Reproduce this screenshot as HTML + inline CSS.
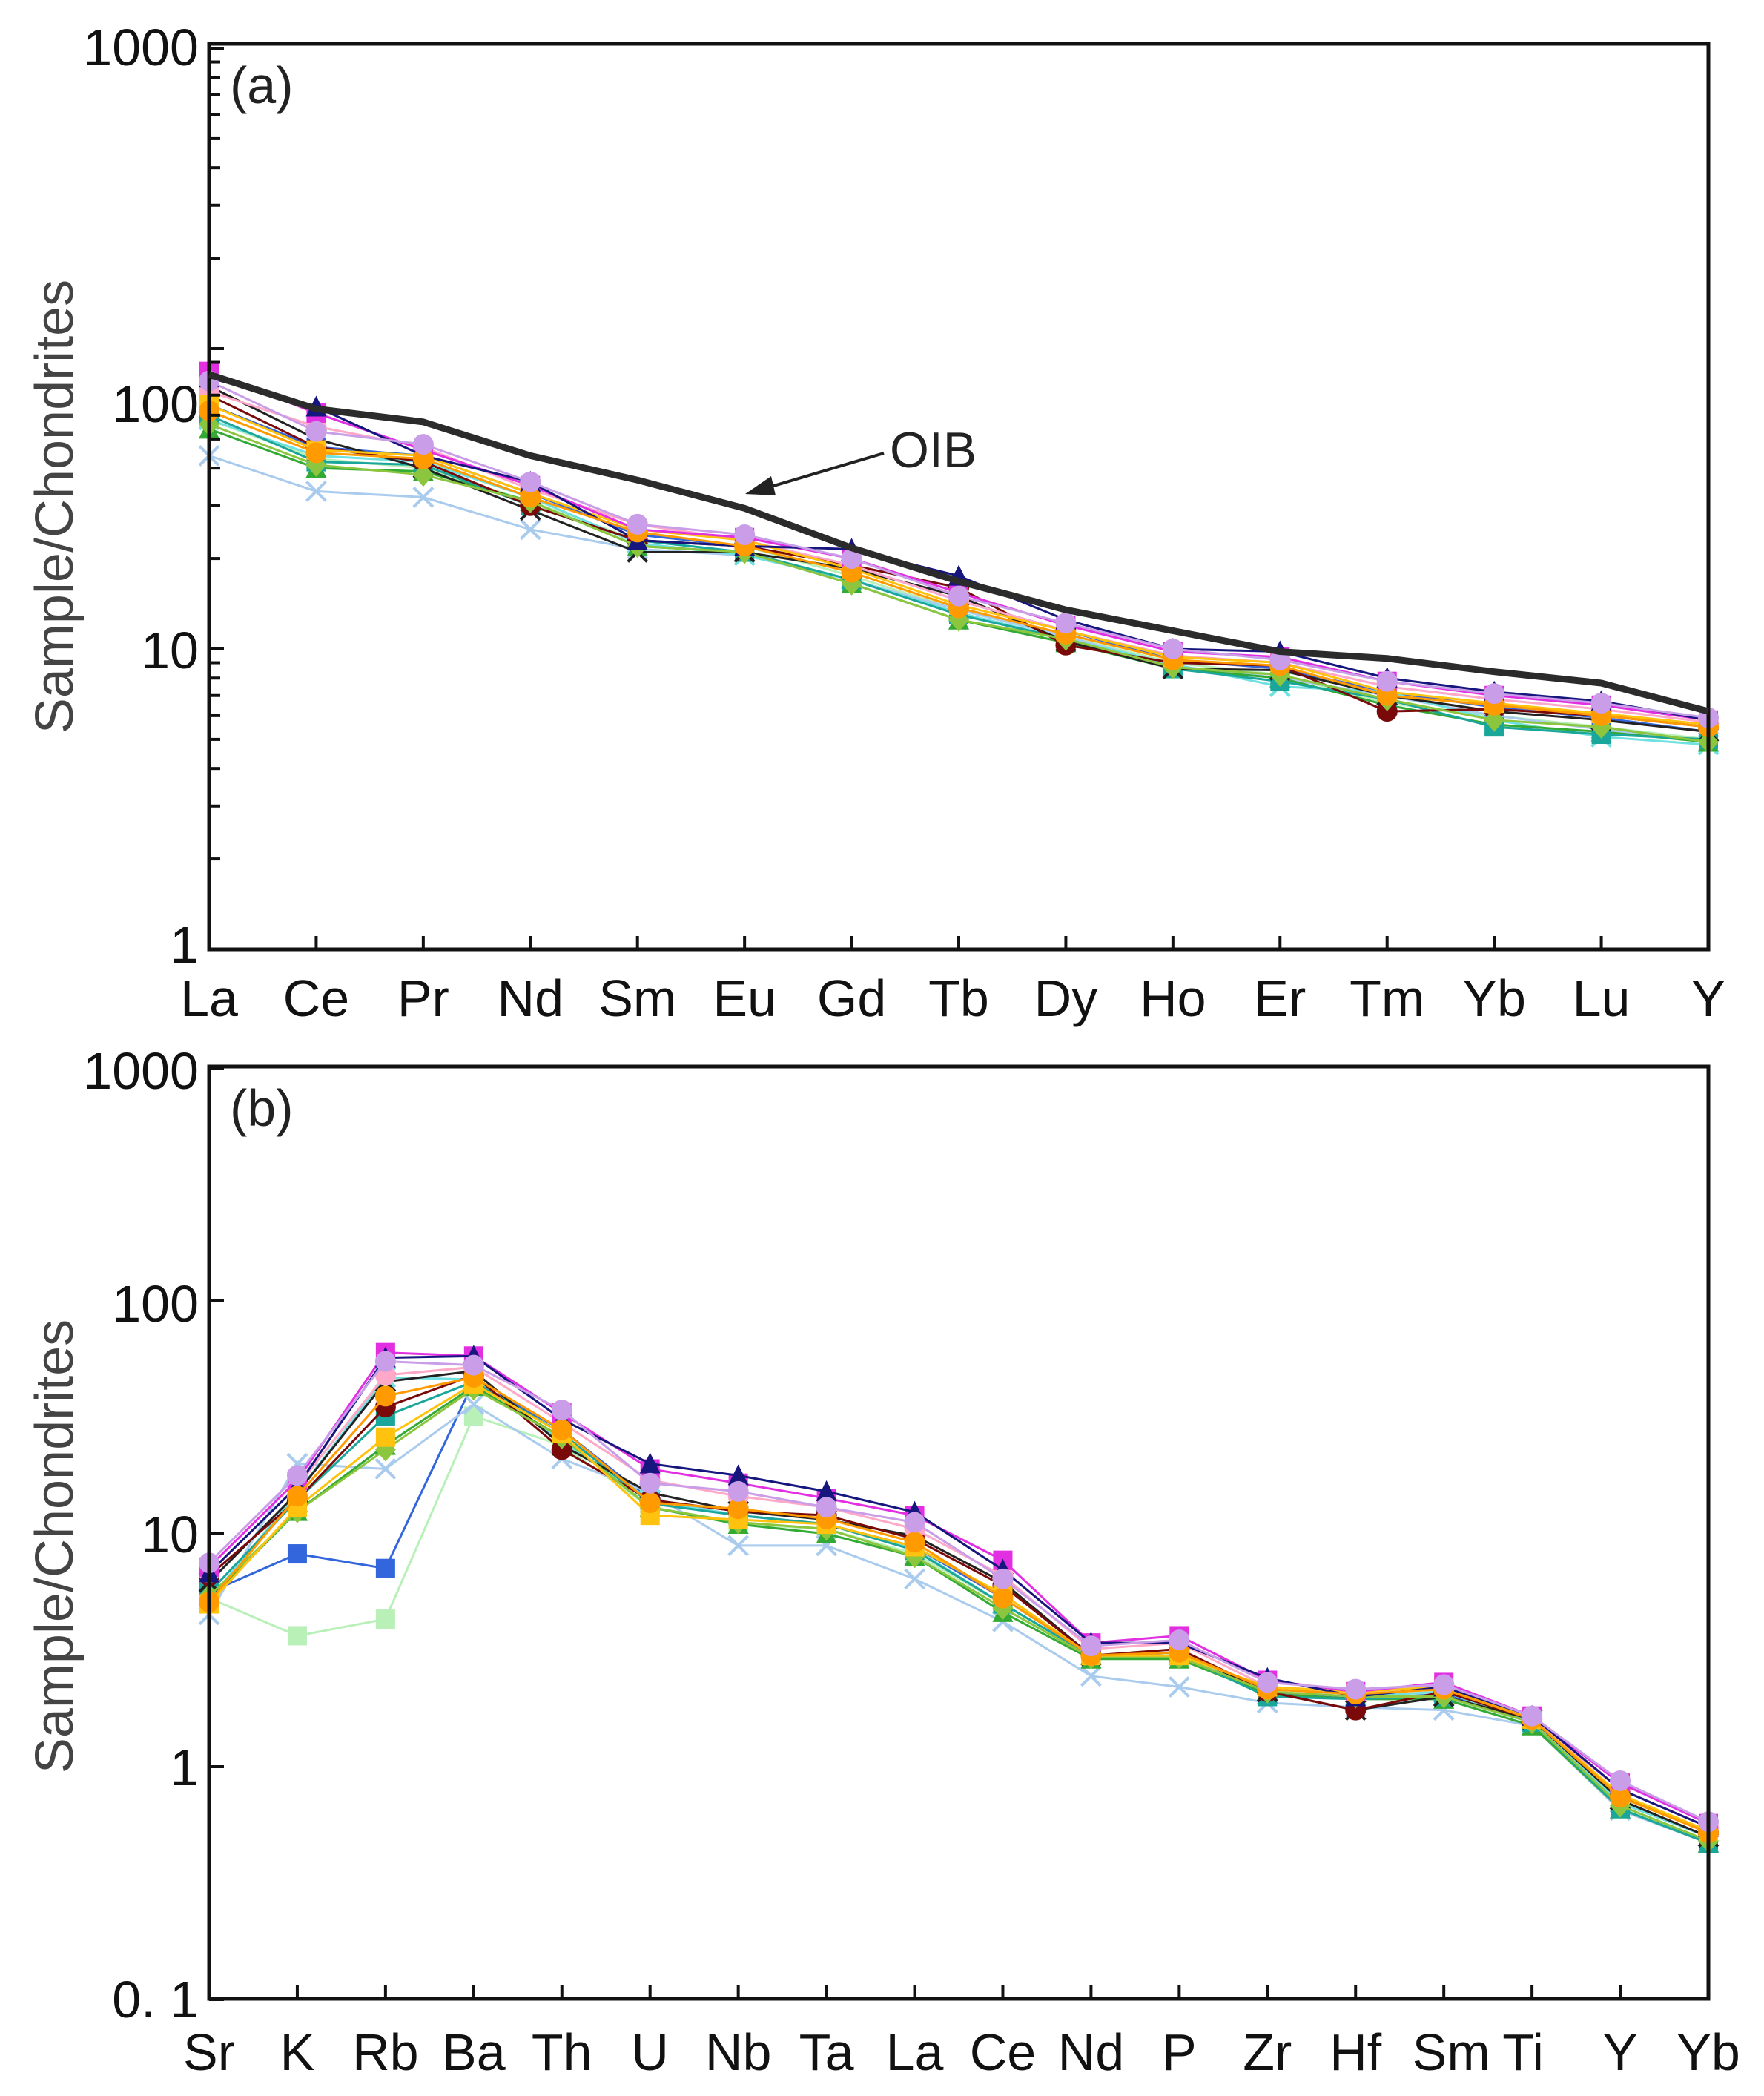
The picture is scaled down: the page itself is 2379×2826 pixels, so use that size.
<!DOCTYPE html>
<html><head><meta charset="utf-8"><style>
html,body{margin:0;padding:0;background:#fff;}
svg{display:block;font-family:"Liberation Sans",sans-serif;}
</style></head><body>
<svg id="chart" width="2379" height="2826" viewBox="0 0 2379 2826" xmlns="http://www.w3.org/2000/svg"></svg>
<script>
// ---------- Panel (a) data ----------
const catsA = ["La","Ce","Pr","Nd","Sm","Eu","Gd","Tb","Dy","Ho","Er","Tm","Yb","Lu","Y"];
const oibA = [82,63,57,44,36.5,29.4,21.7,16.8,13.5,11.5,9.8,9.3,8.4,7.7,6.2];
const s1a  = [84,61,46,35,25,23.5,20,15.4,12.0,9.8,9.4,7.8,7.0,6.5,5.8];
const s2a  = [78,53,48,36,26,24,20,15,12.2,10,9.2,7.8,7.1,6.6,5.9];
const s3a  = [80,64,44,36,23,22,21.5,17.5,12.5,10,9.8,8.0,7.2,6.7,5.8];
const s4a  = [70,47,42,30,23,22,19,16,10.3,9.0,8.8,6.2,6.3,6.0,5.5];
const s5a  = [75,50,40,29,21,21,18.5,15,10.6,8.6,8.5,7.0,6.2,5.8,5.3];
const s6a  = [62,45,43,32,24.5,22,18,13.7,11.2,9.2,8.8,7.0,6.5,6.0,5.5];
const s7a  = [65,46,44,33,25,23,18.5,14,11.5,9.4,9.0,7.2,6.6,6.1,5.6];
const s8a  = [56,41,38,31,22,21,16.5,12.5,10.8,8.7,8.2,6.8,5.8,5.5,4.9];
const s9a  = [60,42,41,30,23,21,17,13,10.8,8.6,7.8,6.8,5.5,5.2,5.0];
const s10a = [44,33.5,32,25,21.5,20.5,17,13.5,11,8.8,8.0,7.0,6.0,5.4,4.9];
const s11a = [58,44,42,32,22.5,20.5,17,13.2,10.8,8.9,7.5,7.2,5.8,5.1,4.8];
const s12a = [72,55,47,34,26,23,19,14.5,11.5,9.5,9.0,7.5,6.8,6.3,5.7];
const s13a = [65,47,44,33,24,22,19,14.5,11.5,9.2,8.6,7.2,6.4,5.9,5.3];
const s14a = [58,43,40,31,23,22,17.5,13.5,11,9,8.2,6.6,6.0,5.5,5.0];
const s15a = [54,40,39,31,22,21,16.5,12.5,10.5,8.6,8.0,6.5,5.6,5.3,4.9];
// ---------- Panel (b) data ----------
const catsB = ["Sr","K","Rb","Ba","Th","U","Nb","Ta","La","Ce","Nd","P","Zr","Hf","Sm","Ti","Y","Yb"];
const s1b  = [7.2,17,60,58,33,19,16.5,14.2,12.0,7.7,3.4,3.65,2.35,2.1,2.3,1.65,0.85,0.57];
const s2b  = [7.5,17.8,55,53,34,16.5,15.2,13,11.2,6.4,3.3,3.5,2.3,2.15,2.25,1.65,0.87,0.58];
const s3b  = [6.8,16,57,58,31,20,17.8,15.2,12.4,7.0,3.4,3.4,2.4,2.0,2.2,1.65,0.8,0.55];
const s4b  = [6.6,14,35,48,23,14,12.5,12,9.5,6.0,3.0,3.2,2.1,1.75,2.1,1.6,0.75,0.52];
const s5b  = [6.2,15,45,50,24,15,12.5,11.5,9.8,6.2,3.0,3.1,2.1,1.75,2.0,1.6,0.72,0.5];
const s6b  = [5.1,14.5,39,47,28,13.6,12.8,11.6,9.2,5.3,3.0,3.1,2.15,2.05,2.15,1.6,0.74,0.52];
const s7b  = [5.0,13,26,44,27,12,11.5,11,8.8,5.5,3.0,3.0,2.2,2.1,2.2,1.6,0.76,0.53];
const s8b  = [5.4,12.5,23,42,26,13,11.2,10.5,8.0,4.8,2.95,2.95,2.1,2.0,2.0,1.55,0.68,0.48];
const s9b  = [5.6,14,32,45,27,13.5,12,11,8.5,5.0,3.0,3.0,2.0,1.95,2.0,1.55,0.66,0.47];
const s10b = [4.5,20,19,36,21,15,8.9,8.9,6.4,4.2,2.45,2.2,1.88,1.8,1.75,1.5,0.65,0.47];
const s11b = [5.2,15,47,46,25,14,12,11,8.6,5.0,3.0,3.0,2.1,2.0,2.1,1.55,0.7,0.5];
const s12b = [6.8,16,48,52,30,17,14.5,13,10.5,6.6,3.2,3.4,2.2,2.1,2.2,1.6,0.8,0.55];
const s13b = [5.6,8.2,7.1,45,28,14,12,11,8.8,5.3,3.0,3.0,2.1,1.95,2.05,1.55,0.7,0.5];
const s14b = [5.3,3.65,4.3,32,24,13,11,10.5,8.2,5.0,2.95,2.95,2.05,1.95,2.0,1.55,0.68,0.48];
const s15b = [5.2,12.5,24,43,26,13,11,10,8,4.6,2.9,2.9,2.05,1.95,1.95,1.5,0.66,0.47];

const tickLabelsA = ["1","10","100","1000"];
const tickLabelsB = ["0. 1","1","10","100","1000"];

const styles = [
 {c:"#e22fe2",m:"sq"},{c:"#c99de8",m:"ci"},{c:"#16167e",m:"tr"},{c:"#7a0a0a",m:"ci"},
 {c:"#222222",m:"x"},{c:"#ff9a00",m:"ci"},{c:"#ffc20e",m:"sq"},{c:"#8cc63f",m:"di"},
 {c:"#1aa69a",m:"sq"},{c:"#a9cbee",m:"x"},{c:"#70e0e0",m:"x"},{c:"#ffa8c8",m:"ci"},
 {c:"#3366dd",m:"sq"},{c:"#b8f0b8",m:"sq"},{c:"#33aa33",m:"tr"}
];
const seriesA=[s1a,s2a,s3a,s4a,s5a,s6a,s7a,s8a,s9a,s10a,s11a,s12a,s13a,s14a,s15a];
const seriesB=[s1b,s2b,s3b,s4b,s5b,s6b,s7b,s8b,s9b,s10b,s11b,s12b,s13b,s14b,s15b];
// draw order (later = on top)
const order=[13,12,9,10,14,8,4,3,7,11,6,0,2,5,1];

const NS="http://www.w3.org/2000/svg";
const svg=document.getElementById('chart');
function mk(tag,attrs,parent){const e=document.createElementNS(NS,tag);for(const k in attrs)e.setAttribute(k,attrs[k]);(parent||svg).appendChild(e);return e;}

const L=282,R=2304;
const A={top:59,bottom:1280,dec:405,min:0};
const B={top:1438,bottom:2695,dec:314,min:-1};
function xA(i){return L+i*(R-L)/(catsA.length-1);}
function xB(i){return L+i*(R-L)/(catsB.length-1);}
function yA(v){return 1280-A.dec*Math.log10(v);}
function yB(v){return 2382-B.dec*Math.log10(v);}

function marker(g,type,x,y,c){
 const s=13;let e;
 if(type==="sq")e=mk('rect',{x:x-s,y:y-s,width:2*s,height:2*s,fill:c},g);
 else if(type==="ci")e=mk('circle',{cx:x,cy:y,r:s+1,fill:c},g);
 else if(type==="tr")e=mk('polygon',{points:`${x},${y-s-2} ${x+s+1},${y+s} ${x-s-1},${y+s}`,fill:c},g);
 else if(type==="di")e=mk('polygon',{points:`${x},${y-s-3} ${x+s+1},${y} ${x},${y+s+3} ${x-s-1},${y}`,fill:c},g);
 else e=mk('path',{d:`M${x-s} ${y-s}L${x+s} ${y+s}M${x-s} ${y+s}L${x+s} ${y-s}`,stroke:c,'stroke-width':4,fill:'none'},g);
 
 
}

function drawPanel(P,cats,xf,yf,series,labels,labelYs,ylabBase,panelTag,minor){
 const g=mk('g',{});
 
 
 order.forEach(si=>{
  const arr=series[si];
  const st=styles[si];
  const sg=mk('g',{},g);
  
  
  const pts=arr.map((v,i)=>xf(i)+','+yf(v)).join(' ');
  const pl=mk('polyline',{points:pts,fill:'none',stroke:st.c,'stroke-width':3},sg);
  
  
  arr.forEach((v,i)=>marker(sg,st.m,xf(i),yf(v),st.c));
 });
 const fr=mk('rect',{x:L,y:P.top,width:R-L,height:P.bottom-P.top,fill:'none',stroke:'#111','stroke-width':5},g);
 
 
 const yt=mk('g',{stroke:'#111','stroke-width':4},g);
 
 
 for(let d=P.min;d<=3;d++){
  const y=yf(Math.pow(10,d));
  mk('line',{x1:L,x2:L+20,y1:y,y2:y},yt);
  if(minor&&d<3){for(let k=2;k<=9;k++){const yy=yf(k*Math.pow(10,d));mk('line',{x1:L,x2:L+15,y1:yy,y2:yy},yt);}}
 }
 const xt=mk('g',{stroke:'#111','stroke-width':4},g);
 
 
 cats.forEach((c,i)=>{
  if(i>0&&i<cats.length-1)mk('line',{x1:xf(i),x2:xf(i),y1:P.bottom,y2:P.bottom-18},xt);
  let dx=0;
  if(panelTag==='b'&&c==='Sm')dx=10;
  if(panelTag==='b'&&c==='Ti')dx=-12;
  const t=mk('text',{x:xf(i)+dx,y:P.bottom+(panelTag==='a'?90:96),'font-size':70,'text-anchor':'middle',fill:'#111'},g);
  t.textContent=c;
  
  
 });
 labels.forEach((lab,i)=>{
  const t=mk('text',{x:268,y:labelYs[i],'font-size':70,'text-anchor':'end',fill:'#111'},g);
  t.textContent=lab;
  
  
 });
 const yl=mk('text',{x:0,y:0,'font-size':72,'text-anchor':'middle',fill:'#444',transform:`translate(98,${ylabBase}) rotate(-90)`},g);
 yl.textContent='Sample/Chondrites';
 
 
 const pt=mk('text',{x:310,y:P.top+80,'font-size':70,fill:'#222'},g);
 pt.textContent='('+panelTag+')';
 
 
 return g;
}

const gA=drawPanel(A,catsA,xA,yA,seriesA,tickLabelsA,[1298,901,569,88],683,'a',true);
const oib=mk('polyline',{points:oibA.map((v,i)=>xA(i)+','+yA(v)).join(' '),fill:'none',stroke:'#2b2b2b','stroke-width':9,'stroke-linejoin':'round'},gA);


const ar=mk('line',{x1:1192,y1:611,x2:1030,y2:659,stroke:'#222','stroke-width':4},gA);


const ah=mk('polygon',{points:'1005,666 1040,642 1046,668',fill:'#222'},gA);


const ot=mk('text',{x:1200,y:630,'font-size':68,fill:'#222'},gA);
ot.textContent='OIB';



drawPanel(B,catsB,xB,yB,seriesB,tickLabelsB,[2720,2407,2093,1782,1468],2085,'b',false);
</script>
</body></html>
